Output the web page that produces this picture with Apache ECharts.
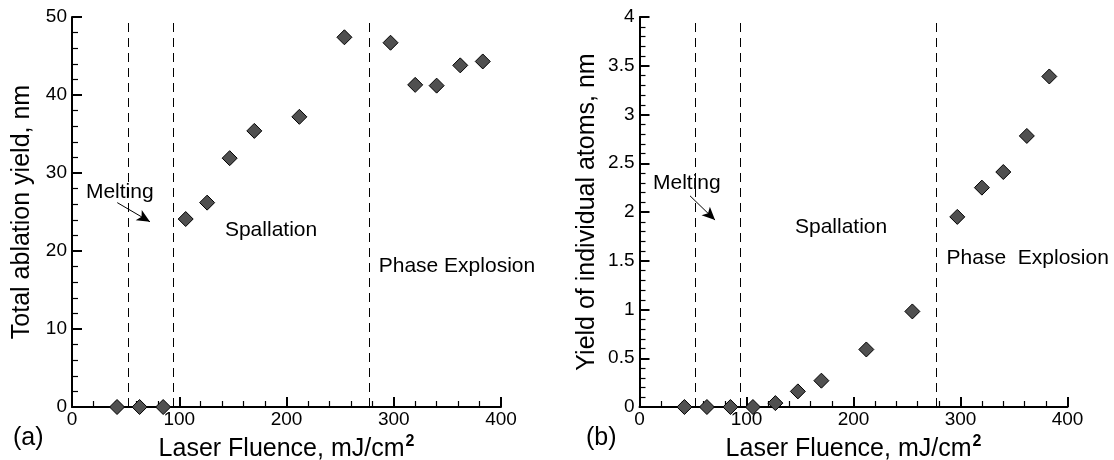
<!DOCTYPE html>
<html>
<head>
<meta charset="utf-8">
<script src="https://cdn.jsdelivr.net/npm/echarts@6/dist/echarts.min.js"></script>
<style>
html,body{margin:0;padding:0;background:#fff;}
#chart{width:1114px;height:460px;}
</style>
</head>
<body>
<div id="chart"></div>
<script>
// ---- data ----
var fluenceA = [42, 63, 85, 106, 126, 147, 170, 212, 254, 297, 320, 340, 362, 383];
var totalYield = [0, 0, 0, 24.1, 26.2, 31.9, 35.4, 37.2, 47.4, 46.7, 41.3, 41.2, 43.8, 44.3];
var fluenceB = [42, 63, 85, 106, 127, 148, 170, 212, 255, 297, 320, 340, 362, 383];
var atomYield = [0, 0, 0, 0, 0.04, 0.16, 0.27, 0.59, 0.98, 1.95, 2.25, 2.41, 2.78, 3.39];
var thresholds = [52, 94, 277];
var labelsA = ['Melting', 'Spallation', 'Phase Explosion'];
var labelAnchorsA = [[13, 27.6], [142.6, 22.7], [286, 18.0]];
var labelsB = ['Melting', 'Spallation', 'Phase\u00a0\u00a0Explosion'];
var labelAnchorsB = [[12.6, 2.30], [145.3, 1.84], [287, 1.53]];
var arrowA = [[42.2, 26.2], [72.7, 23.75]];
var arrowB = [[47.2, 2.166], [70.6, 1.917]];

var FONT = '"Liberation Sans", Arial, sans-serif';
var chart = echarts.init(document.getElementById('chart'), null, {renderer: 'canvas'});

function pairs(xs, ys) { return xs.map(function (x, i) { return [x, ys[i]]; }); }

function xAxisDef(gi) {
  return {
    gridIndex: gi, type: 'value', min: 0, max: 400, interval: 100,
    name: '{n|Laser Fluence, mJ/cm}{s|2}', nameLocation: 'middle', nameGap: 16,
    nameTextStyle: {
      rich: {
        n: {fontSize: 25, lineHeight: 30, fontFamily: FONT, color: '#000', verticalAlign: 'bottom'},
        s: {fontSize: 16, lineHeight: 16, fontFamily: FONT, fontWeight: 'bold', color: '#000', verticalAlign: 'bottom', padding: [0, 0, 12, 1]}
      }
    },
    axisLine: {show: true, onZero: false, lineStyle: {color: '#000', width: 2}},
    axisTick: {show: true, inside: true, length: 10, lineStyle: {color: '#000', width: 2}},
    minorTick: {show: true, splitNumber: 5, length: 6, lineStyle: {color: '#000', width: 1.2}},
    splitLine: {show: false},
    axisLabel: {fontSize: 19, fontFamily: FONT, color: '#000', margin: 3}
  };
}

function yAxisDef(gi, max, interval, name, gap) {
  return {
    gridIndex: gi, type: 'value', min: 0, max: max, interval: interval,
    name: name, nameLocation: 'middle', nameGap: gap,
    nameTextStyle: {fontSize: 25, fontFamily: FONT, color: '#000'},
    axisLine: {show: true, onZero: false, lineStyle: {color: '#000', width: 2}},
    axisTick: {show: true, inside: true, length: 10, lineStyle: {color: '#000', width: 2}},
    minorTick: {show: true, splitNumber: 5, length: 6, lineStyle: {color: '#000', width: 1.2}},
    splitLine: {show: false},
    axisLabel: {fontSize: 19, fontFamily: FONT, color: '#000', margin: 5}
  };
}

function pointSeries(gi, xs, ys) {
  return {
    type: 'scatter', xAxisIndex: gi, yAxisIndex: gi, clip: false, z: 5,
    symbol: 'diamond', symbolSize: 15,
    itemStyle: {color: '#505050', borderColor: '#000', borderWidth: 1, opacity: 1},
    data: pairs(xs, ys),
    markLine: {
      silent: true, symbol: ['none', 'none'], animation: false,
      label: {show: false},
      lineStyle: {color: '#000', width: 1, type: [9, 6], opacity: 1},
      data: thresholds.map(function (t) { return {xAxis: t}; })
    }
  };
}

function arrowSeries(gi, arrow) {
  return {
    type: 'line', xAxisIndex: gi, yAxisIndex: gi, data: [], silent: true,
    markLine: {
      silent: true, animation: false, symbol: ['none', 'arrow'], symbolSize: [9, 13],
      label: {show: false},
      lineStyle: {color: '#000', width: 1, type: 'solid', opacity: 1},
      itemStyle: {color: '#000'},
      data: [[{coord: arrow[0]}, {coord: arrow[1]}]]
    }
  };
}

function textSeries(gi, labels, anchors) {
  return {
    type: 'scatter', xAxisIndex: gi, yAxisIndex: gi, symbolSize: 0, silent: true, clip: false,
    itemStyle: {opacity: 1},
    data: labels.map(function (t, i) { return {name: t, value: anchors[i]}; }),
    label: {
      show: true, position: 'right', distance: 0, formatter: '{b}',
      fontSize: 21, fontFamily: FONT, color: '#000', opacity: 1
    }
  };
}

var option = {
  animation: false,
  backgroundColor: '#fff',
  title: [
    {text: '(a)', left: 13, top: 426, textStyle: {fontSize: 25, fontWeight: 'normal', fontFamily: FONT, color: '#000'}, padding: 0},
    {text: '(b)', left: 586, top: 426, textStyle: {fontSize: 25, fontWeight: 'normal', fontFamily: FONT, color: '#000'}, padding: 0}
  ],
  grid: [
    {left: 72, top: 17, width: 429, bottom: 53, containLabel: false, outerBoundsMode: 'none'},
    {left: 639.5, top: 17, width: 428, bottom: 53, containLabel: false, outerBoundsMode: 'none'}
  ],
  xAxis: [xAxisDef(0), xAxisDef(1)],
  yAxis: [
    yAxisDef(0, 50, 10, 'Total ablation yield, nm', 37),
    yAxisDef(1, 4, 0.5, 'Yield of individual atoms, nm', 40)
  ],
  series: [
    pointSeries(0, fluenceA, totalYield),
    pointSeries(1, fluenceB, atomYield),
    arrowSeries(0, arrowA),
    arrowSeries(1, arrowB),
    textSeries(0, labelsA, labelAnchorsA),
    textSeries(1, labelsB, labelAnchorsB)
  ]
};
chart.setOption(option);
</script>
</body>
</html>
